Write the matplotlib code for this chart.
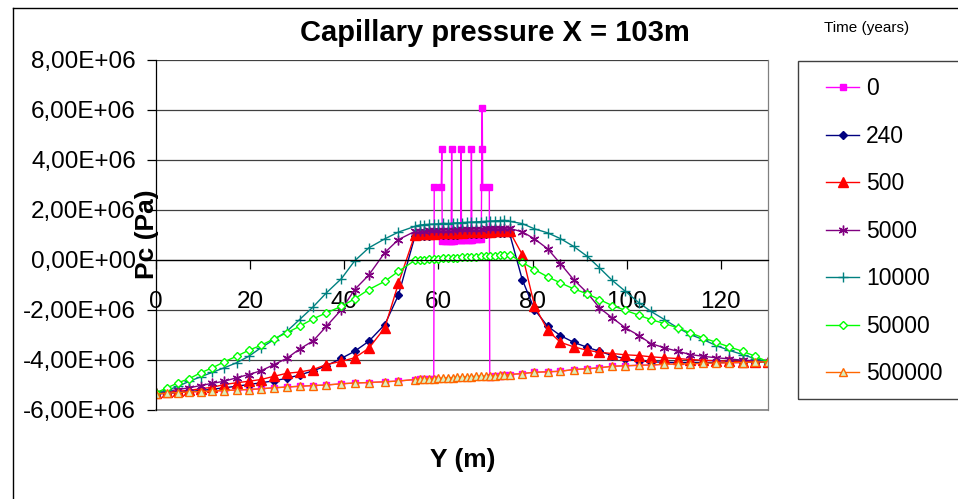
import matplotlib.pyplot as plt
from matplotlib.lines import Line2D
from matplotlib.patches import Rectangle
from matplotlib.ticker import FuncFormatter, MultipleLocator

plt.rcParams["font.family"] = ["Liberation Sans", "DejaVu Sans"]

# === Data (Pc in 1E6 Pa) ===
y_left = [0, 2.4, 4.7, 7.1, 9.5, 12.0, 14.5, 17.1, 19.7, 22.3, 25.1, 27.8, 30.5, 33.4, 36.2,
          39.4, 42.2, 45.2, 48.6, 51.5, 55.0]
y_mid = [56, 57, 58, 59, 60, 61, 62, 63, 64, 65, 66, 67, 68, 69, 70, 71, 72, 73, 74]
y_right = [75.1, 77.8, 80.4, 83.2, 85.9, 88.7, 91.6, 94.2, 96.9, 99.7, 102.6, 105.1, 108.0,
           110.8, 113.5, 116.2, 119.0, 121.7, 124.6, 127.3, 130.0]
y_m = y_left + y_mid + y_right

pc_240 = [-5.37, -5.35, -5.32, -5.28, -5.24, -5.19, -5.13, -5.07, -5.00, -4.93, -4.85, -4.75, -4.62,
          -4.45, -4.25, -3.95, -3.67, -3.27, -2.60, -1.42, 0.93,
          0.94, 0.95, 0.96, 0.97, 0.97, 0.98, 0.99, 1.00, 1.00, 1.01, 1.02, 1.02, 1.03, 1.04, 1.04,
          1.05, 1.06, 1.06, 1.07,
          1.05, -0.80, -2.00, -2.67, -3.04, -3.31, -3.51, -3.67, -3.84, -3.97, -4.05, -4.09, -4.11,
          -4.12, -4.12, -4.12, -4.12, -4.11, -4.11, -4.10, -4.09]
pc_500 = [-5.35, -5.31, -5.27, -5.23, -5.17, -5.11, -5.00, -4.93, -4.87, -4.80, -4.67, -4.55, -4.50,
          -4.40, -4.20, -4.07, -3.93, -3.55, -2.73, -0.95, 1.00,
          1.01, 1.02, 1.03, 1.04, 1.05, 1.05, 1.06, 1.07, 1.08, 1.08, 1.09, 1.10, 1.10, 1.11, 1.12,
          1.12, 1.13, 1.14, 1.14,
          1.13, 0.20, -1.84, -2.83, -3.31, -3.49, -3.63, -3.71, -3.76, -3.81, -3.84, -3.89, -3.93,
          -3.96, -4.00, -4.03, -4.05, -4.07, -4.08, -4.09, -4.09]
pc_5000 = [-5.35, -5.27, -5.20, -5.13, -5.04, -4.95, -4.87, -4.73, -4.60, -4.45, -4.20, -3.95, -3.58,
           -3.25, -2.67, -2.00, -1.20, -0.62, 0.28, 0.80, 1.13,
           1.15, 1.16, 1.17, 1.17, 1.18, 1.19, 1.19, 1.20, 1.21, 1.21, 1.22, 1.23, 1.23, 1.24, 1.25,
           1.25, 1.26, 1.27, 1.27,
           1.25, 1.11, 0.83, 0.43, -0.16, -0.80, -1.33, -1.93, -2.33, -2.73, -3.04, -3.36, -3.53,
           -3.67, -3.80, -3.87, -3.93, -3.97, -4.03, -4.05, -4.09]
pc_10000 = [-5.35, -5.23, -5.07, -4.87, -4.69, -4.51, -4.33, -4.13, -3.87, -3.53, -3.20, -2.87, -2.40,
            -1.89, -1.33, -0.76, -0.05, 0.47, 0.83, 1.10, 1.33,
            1.38, 1.40, 1.41, 1.42, 1.43, 1.45, 1.44, 1.46, 1.47, 1.48, 1.49, 1.50, 1.51, 1.52, 1.53,
            1.54, 1.55, 1.56, 1.57,
            1.53, 1.44, 1.23, 1.07, 0.84, 0.53, 0.13, -0.33, -0.83, -1.27, -1.73, -2.07, -2.40,
            -2.73, -3.00, -3.20, -3.44, -3.63, -3.80, -3.97, -4.09]
pc_50000 = [-5.33, -5.13, -4.93, -4.76, -4.53, -4.33, -4.09, -3.87, -3.63, -3.43, -3.17, -2.93, -2.67,
            -2.37, -2.13, -1.87, -1.57, -1.20, -0.87, -0.47, -0.03,
            -0.02, 0.00, 0.01, 0.02, 0.03, 0.05, 0.06, 0.07, 0.08, 0.09, 0.10, 0.11, 0.12, 0.13, 0.14,
            0.15, 0.16, 0.17, 0.18,
            0.20, -0.11, -0.40, -0.69, -0.93, -1.17, -1.37, -1.60, -1.84, -2.03, -2.23, -2.40, -2.56,
            -2.73, -2.93, -3.13, -3.31, -3.49, -3.67, -3.87, -4.09]
pc_500000 = [-5.38, -5.35, -5.32, -5.30, -5.28, -5.26, -5.24, -5.22, -5.20, -5.17, -5.13, -5.10, -5.07,
             -5.04, -5.02, -4.97, -4.94, -4.92, -4.89, -4.86, -4.80,
             -4.79, -4.78, -4.77, -4.76, -4.75, -4.74, -4.73, -4.72, -4.71, -4.70, -4.69, -4.68, -4.67,
             -4.66, -4.66, -4.65, -4.64, -4.63, -4.63,
             -4.60, -4.56, -4.51, -4.49, -4.47, -4.40, -4.37, -4.33, -4.27, -4.25, -4.23, -4.22, -4.19,
             -4.18, -4.17, -4.15, -4.14, -4.13, -4.12, -4.10, -4.09]

# initial state (t = 0) has its own sampling in the central zone
y_0_mid = [56, 57, 58, 59.0, 59.1, 60.6, 60.7, 60.8, 61.3, 61.8, 62.3, 62.7, 62.8, 62.9, 63.4, 63.9,
           64.4, 64.7, 64.8, 64.9, 65.4, 65.9, 66.4, 66.9, 67.0, 67.1, 67.6, 68.1, 68.6, 69.1, 69.2,
           69.3, 69.4, 70.8, 70.9, 72, 73, 74]
pc_0_mid = [-4.79, -4.78, -4.77, -4.76, 2.92, 2.92, 4.42, 0.74, 0.74, 0.75, 0.75, 0.76, 4.42, 0.76,
            0.76, 0.77, 0.77, 0.78, 4.42, 0.78, 0.79, 0.79, 0.80, 0.80, 4.42, 0.80, 0.81, 0.81, 0.82,
            0.82, 4.42, 6.05, 2.92, 2.92, -4.68, -4.66, -4.64, -4.63]
y_0 = y_left + y_0_mid + y_right
pc_0 = pc_500000[:21] + pc_0_mid + pc_500000[40:]

labels = ["0", "240", "500", "5000", "10000", "50000", "500000"]

# === Figure ===
W, H = 958, 499
fig = plt.figure(figsize=(W / 100, H / 100), dpi=100)
ax = fig.add_axes([156 / W, 1 - 409.5 / H, (768 - 156) / W, (409.5 - 59.7) / H])

ax.yaxis.grid(True, color="#404040", linewidth=0.9)
ax.axhline(-6e6, color="#808080", lw=1.2, clip_on=False)
ax.set_axisbelow(True)

sc = 1e6
lines = []
lines += ax.plot(y_0, [v * sc for v in pc_0], color="#FF00FF", lw=1.0, marker="s", ms=5,
                 mfc="#FF00FF", mec="#FF00FF")
lines += ax.plot(y_m, [v * sc for v in pc_240], color="#000080", lw=1.0, marker="D", ms=4,
                 mfc="#000080", mec="#000080")
lines += ax.plot(y_m, [v * sc for v in pc_500], color="#FF0000", lw=1.0, marker="^", ms=6.5,
                 mfc="#FF0000", mec="#FF0000")
lines += ax.plot(y_m, [v * sc for v in pc_5000], color="#800080", lw=1.0, marker=(6, 2, 0), ms=7,
                 mec="#800080", mew=1.0)
lines += ax.plot(y_m, [v * sc for v in pc_10000], color="#008080", lw=1.0, marker="+", ms=7,
                 mec="#008080", mew=1.0)
lines += ax.plot(y_m, [v * sc for v in pc_50000], color="#00FF00", lw=1.0, marker="D", ms=4.5,
                 mfc="white", mec="#00FF00", mew=1.0)
lines += ax.plot(y_m, [v * sc for v in pc_500000], color="#FF6600", lw=1.0, marker="^", ms=6,
                 mfc="#D8F0C0", mec="#FF6600", mew=1.0)

ax.set_xlim(0, 130)
ax.set_ylim(-6e6, 8e6)
ax.xaxis.set_major_locator(MultipleLocator(20))
ax.yaxis.set_major_locator(MultipleLocator(2e6))
ax.yaxis.set_major_formatter(FuncFormatter(lambda v, p: f"{v:.2E}".replace(".", ",")))

ax.spines["bottom"].set_position(("data", 0))
ax.spines["bottom"].set_color("black")
ax.spines["left"].set_color("black")
ax.spines["right"].set_color("#808080")
ax.spines["top"].set_visible(False)
for s in ax.spines.values():
    s.set_linewidth(0.9)
ax.tick_params(axis="x", direction="out", length=6.5, width=0.9, pad=16, labelsize=17.5)
ax.tick_params(axis="y", direction="out", length=6.5, width=0.9, pad=8, labelsize=17.5)

fig.text(495 / W, 1 - 33 / H, "Capillary pressure X = 103m", ha="center", va="center",
         fontsize=21, fontweight="bold")
fig.text(463 / W, 1 - 460 / H, "Y (m)", ha="center", va="center", fontsize=19, fontweight="bold")
fig.text(147 / W, 1 - 234 / H, "Pc (Pa)", ha="center", va="center", rotation=90,
         fontsize=19, fontweight="bold")
fig.text(867 / W, 1 - 28 / H, "Time (years)", ha="center", va="center", fontsize=11)

# legend
ax.legend(lines, labels, loc="upper left", bbox_to_anchor=(826 / W, 1 - 77 / H),
          bbox_transform=fig.transFigure, frameon=False, fontsize=16.5, borderpad=0,
          borderaxespad=0, handlelength=1.45, handletextpad=0.3, labelspacing=1.07)
fig.patches.append(Rectangle((798 / W, 1 - 399 / H), 0.3, (399 - 61) / H, transform=fig.transFigure,
                             fill=False, edgecolor="#404040", lw=1.0, clip_on=False))

# outer chart frame
fig.lines.append(Line2D([13 / W, 13 / W], [0, 1 - 8 / H], transform=fig.transFigure,
                        color="black", lw=1.0))
fig.lines.append(Line2D([13 / W, 1], [1 - 8 / H, 1 - 8 / H], transform=fig.transFigure,
                        color="black", lw=1.0))

fig.savefig("out.png", dpi=100)
